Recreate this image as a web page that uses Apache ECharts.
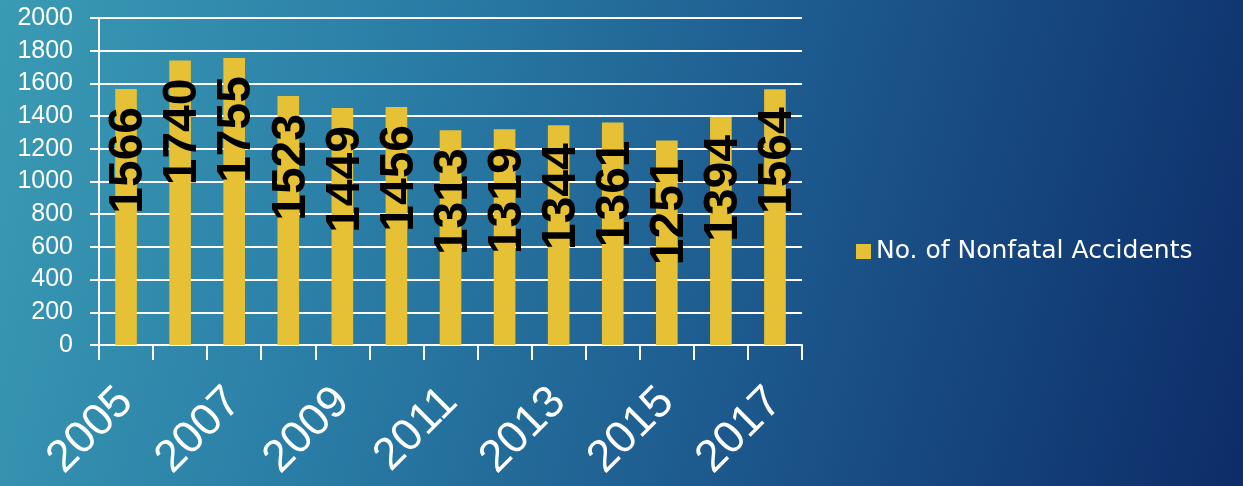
<!DOCTYPE html>
<html>
<head>
<meta charset="utf-8">
<script src="https://cdn.jsdelivr.net/npm/echarts@6/dist/echarts.min.js"></script>
<style>
html,body{margin:0;padding:0;width:1243px;height:486px;overflow:hidden;}
body{background:linear-gradient(105deg,#3a9bb4 0%,#2a7ea6 30%,#1d5a8e 60%,#0d2c68 100%);}
#chart{width:1243px;height:486px;}
</style>
</head>
<body>
<div id="chart"></div>
<script>
const years = ['2005','2006','2007','2008','2009','2010','2011','2012','2013','2014','2015','2016','2017'];
const nonfatal = [1566,1740,1755,1523,1449,1456,1313,1319,1344,1361,1251,1394,1564];
const seriesName = 'No. of Nonfatal Accidents';
const yTicks = {min:0, max:2000, interval:200};

const chart = echarts.init(document.getElementById('chart'));
chart.setOption({
  backgroundColor: 'transparent',
  animation: false,
  grid: {left: 99, right: 441, top: 18, bottom: 141},
  legend: {
    orient: 'vertical', left: 851, top: 234,
    icon: 'rect', itemWidth: 15, itemHeight: 15, itemGap: 6,
    textStyle: {color: '#ffffff', fontSize: 25, fontFamily: 'DejaVu Sans'},
    data: [seriesName]
  },
  xAxis: {
    type: 'category', data: years, boundaryGap: true,
    axisLine: {show: true, lineStyle: {color: '#ffffff', width: 2}},
    axisTick: {show: true, interval: 0, length: 15, lineStyle: {color: '#ffffff', width: 2}},
    axisLabel: {interval: 1, rotate: 45, margin: 50, color: '#ffffff', fontSize: 45, fontFamily: 'Liberation Sans'}
  },
  yAxis: {
    type: 'value', min: yTicks.min, max: yTicks.max, interval: yTicks.interval,
    axisLine: {show: true, lineStyle: {color: '#ffffff', width: 2}},
    axisTick: {show: true, length: 9, lineStyle: {color: '#ffffff', width: 2}},
    axisLabel: {color: '#ffffff', fontSize: 25, margin: 26, fontFamily: 'Liberation Sans',
      formatter: v => String(v)},
    splitLine: {show: true, lineStyle: {color: '#ffffff', width: 2}}
  },
  series: [{
    name: seriesName, type: 'bar', data: nonfatal, barWidth: '40%',
    itemStyle: {color: '#E6C135'},
    label: {
      show: true, position: 'insideTop', distance: 18, rotate: 90,
      align: 'right', verticalAlign: 'middle', offset: [0, 3],
      color: '#000000', fontSize: 48, fontWeight: 'bold', fontFamily: 'Liberation Sans'
    }
  }]
});
</script>
</body>
</html>
